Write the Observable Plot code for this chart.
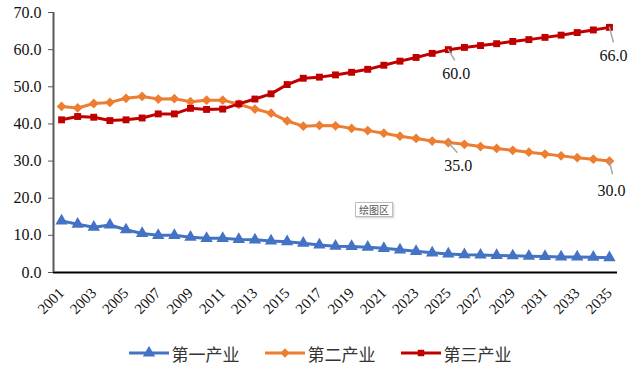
<!DOCTYPE html>
<html>
<head>
<meta charset="utf-8">
<script src="https://cdn.jsdelivr.net/npm/d3@7"></script>
<script src="https://cdn.jsdelivr.net/npm/@observablehq/plot@0.6"></script>
<style>
  html, body { margin: 0; padding: 0; background: #fff; }
  #wrap { position: relative; width: 640px; height: 368px; overflow: hidden; }
  #legend { display: flex; justify-content: center; align-items: center; height: 34px; gap: 25px;
            font-family: "Noto Sans CJK SC", sans-serif; font-size: 17px; color: #333; }
  .item { display: flex; align-items: center; gap: 3px; }
  #plotarea { position: absolute; left: 355px; top: 202px; padding: 0 3px; border: 1px solid #bdbdbd;
              box-shadow: 1px 1px 2px #ccc; font-family: "Noto Sans CJK SC", sans-serif; font-size: 10px;
              color: #555; background: #fff; line-height: 13px; }
</style>
</head>
<body>
<div id="wrap"></div>
<script>
const years = [2001,2002,2003,2004,2005,2006,2007,2008,2009,2010,2011,2012,2013,2014,2015,2016,2017,2018,
               2019,2020,2021,2022,2023,2024,2025,2026,2027,2028,2029,2030,2031,2032,2033,2034,2035];
const primary = [13.9,13.0,12.2,12.8,11.5,10.5,10.0,10.0,9.5,9.2,9.2,8.9,8.8,8.5,8.3,7.9,7.4,7.1,
                 7.0,6.8,6.5,6.1,5.7,5.3,5.0,4.8,4.7,4.6,4.5,4.4,4.3,4.2,4.2,4.1,4.0];
const secondary = [44.7,44.3,45.5,45.8,46.9,47.4,46.7,46.8,46.0,46.4,46.4,45.3,44.0,42.9,40.8,39.4,39.6,39.5,
                   38.8,38.2,37.5,36.7,36.1,35.4,35.0,34.5,33.9,33.4,32.9,32.4,31.9,31.4,30.9,30.5,30.0];
const tertiary = [41.1,42.0,41.8,40.9,41.1,41.6,42.7,42.7,44.2,43.9,44.0,45.4,46.7,48.1,50.6,52.3,52.6,53.2,
                  53.9,54.7,55.8,56.9,57.9,59.0,60.0,60.6,61.1,61.6,62.2,62.7,63.3,63.9,64.6,65.3,66.0];
const seriesNames = ["第一产业", "第二产业", "第三产业"];
const seriesColors = ["#4472C4", "#ED7D31", "#C00000"];
const seriesSymbols = ["triangle", "diamond2", "square"];
const xTicks = [2001,2003,2005,2007,2009,2011,2013,2015,2017,2019,2021,2023,2025,2027,2029,2031,2033,2035];
const yTicks = [0,10,20,30,40,50,60,70];
const labelYears = [2025, 2035];
const plotAreaLabel = "绘图区";

const values = [primary, secondary, tertiary];
const rows = seriesNames.flatMap((s, i) => years.map((y, j) => ({series: s, year: y, value: values[i][j]})));
const pick = (s) => rows.filter(d => d.series === s && labelYears.includes(d.year));
const terLab = pick("第三产业");
const secLab = pick("第二产业");

const noHead = {draw(ctx, l) { ctx.moveTo(0, 0); ctx.lineTo(0, -l); }};
const serif = "Liberation Serif, Times New Roman, serif";

const marks = [
  Plot.ruleY([0], {stroke: "#000", strokeWidth: 2}),
  Plot.ruleX([2000.5], {stroke: "#595959", strokeWidth: 2}),
  Plot.axisY({ticks: yTicks, tickFormat: d => d.toFixed(1), tickSize: 5, tickPadding: 7, stroke: "#595959", fill: "#111", label: null}),
  Plot.axisX({ticks: xTicks, tickFormat: d => String(d), tickRotate: -45, tickSize: 0, tickPadding: 18, fill: "#111", label: null, fontSize: 15}),
];
seriesNames.forEach((s, i) => {
  const data = rows.filter(d => d.series === s);
  marks.push(Plot.line(data, {x: "year", y: "value", stroke: seriesColors[i], strokeWidth: 3}));
  marks.push(Plot.dot(data, {x: "year", y: "value", fill: seriesColors[i], symbol: () => seriesSymbols[i],
                             r: i === 0 ? 4.6 : i === 1 ? 4.4 : 3.9}));
});
// leader lines and value labels
marks.push(
  Plot.vector(terLab.filter(d => d.year === 2025), {x: "year", y: "value", anchor: "start", length: 12, rotate: 149, shape: noHead, stroke: "#a6a6a6", strokeWidth: 1.5}),
  Plot.vector(terLab.filter(d => d.year === 2035), {x: "year", y: "value", anchor: "start", length: 15, rotate: 165, shape: noHead, stroke: "#a6a6a6", strokeWidth: 1.5}),
  Plot.vector(secLab.filter(d => d.year === 2025), {x: "year", y: "value", anchor: "start", length: 13, rotate: 138, shape: noHead, stroke: "#a6a6a6", strokeWidth: 1.5}),
  Plot.vector(secLab.filter(d => d.year === 2035), {x: "year", y: "value", anchor: "start", length: 13, rotate: 167, shape: noHead, stroke: "#a6a6a6", strokeWidth: 1.5}),
  Plot.text(terLab.filter(d => d.year === 2025), {x: "year", y: "value", text: d => d.value.toFixed(1), dx: 8, dy: 24, fill: "#111"}),
  Plot.text(terLab.filter(d => d.year === 2035), {x: "year", y: "value", text: d => d.value.toFixed(1), dx: 4, dy: 29, fill: "#111"}),
  Plot.text(secLab.filter(d => d.year === 2025), {x: "year", y: "value", text: d => d.value.toFixed(1), dx: 10, dy: 23, fill: "#111"}),
  Plot.text(secLab.filter(d => d.year === 2035), {x: "year", y: "value", text: d => d.value.toFixed(1), dx: 2, dy: 30, fill: "#111"})
);

const chart = Plot.plot({
  width: 640,
  height: 336,
  marginLeft: 53,
  marginRight: 23,
  marginTop: 12,
  marginBottom: 64,
  style: {fontFamily: serif, fontSize: "16px", background: "#fff", overflow: "visible"},
  x: {type: "linear", domain: [2000.5, 2035.5], axis: null},
  y: {domain: [0, 70], axis: null},
  marks
});

const wrap = document.getElementById("wrap");
wrap.appendChild(chart);

const legend = document.createElement("div");
legend.id = "legend";
seriesNames.forEach((s, i) => {
  const item = document.createElement("div");
  item.className = "item";
  const sym = d3.create("svg").attr("width", 40).attr("height", 14);
  sym.append("line").attr("x1", 0).attr("x2", 40).attr("y1", 7).attr("y2", 7)
     .attr("stroke", seriesColors[i]).attr("stroke-width", 3);
  const symType = [d3.symbolTriangle, d3.symbolDiamond2, d3.symbolSquare][i];
  const size = [66, 55, 42][i];
  sym.append("path").attr("transform", "translate(20,7)").attr("d", d3.symbol(symType, size)())
     .attr("fill", seriesColors[i]);
  item.appendChild(sym.node());
  const t = document.createElement("span");
  t.textContent = s;
  item.appendChild(t);
  legend.appendChild(item);
});
wrap.appendChild(legend);

const pa = document.createElement("div");
pa.id = "plotarea";
pa.textContent = plotAreaLabel;
wrap.appendChild(pa);
</script>
</body>
</html>
